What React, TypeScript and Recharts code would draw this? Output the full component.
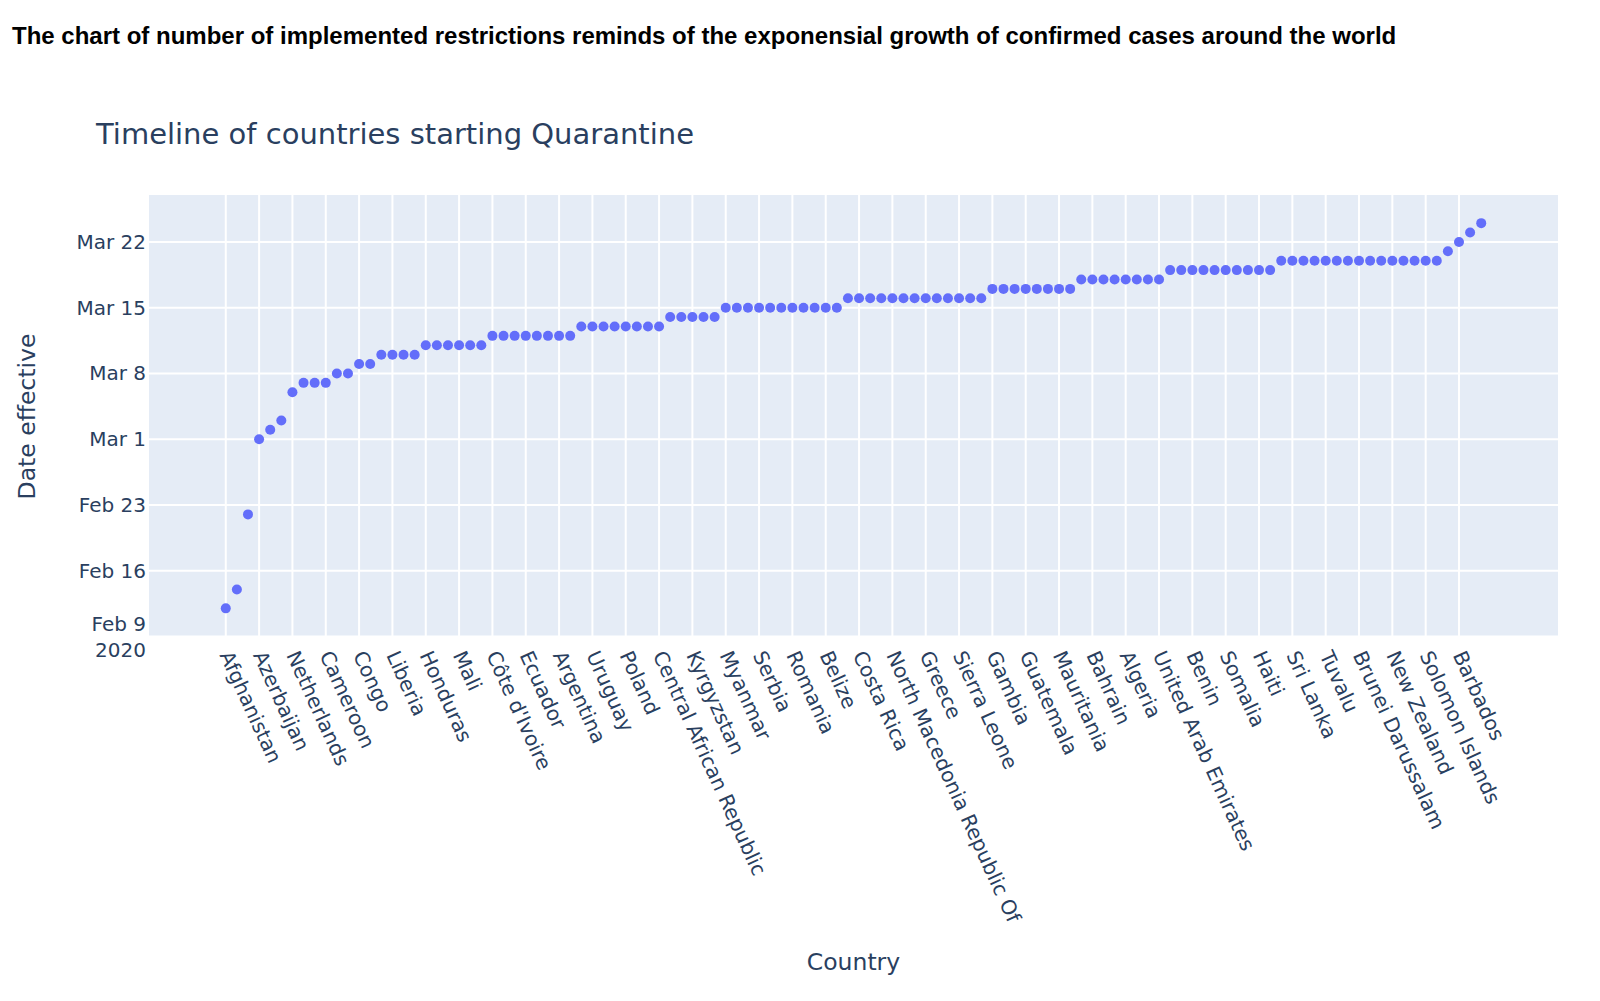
import React from "react";
import { ScatterChart, Scatter, XAxis, YAxis, CartesianGrid } from "recharts";

// country labels shown on the x axis (every third category)
const labeledCountries = [
  "Afghanistan", "Azerbaijan", "Netherlands", "Cameroon", "Congo", "Liberia",
  "Honduras", "Mali", "Côte d'Ivoire", "Ecuador", "Argentina", "Uruguay",
  "Poland", "Central African Republic", "Kyrgyzstan", "Myanmar", "Serbia",
  "Romania", "Belize", "Costa Rica", "North Macedonia Republic Of", "Greece",
  "Sierra Leone", "Gambia", "Guatemala", "Mauritania", "Bahrain", "Algeria",
  "United Arab Emirates", "Benin", "Somalia", "Haiti", "Sri Lanka", "Tuvalu",
  "Brunei Darussalam", "New Zealand", "Solomon Islands", "Barbados",
];
const labelStep = 3;

// date effective for each country, in chart order
const dateEffective = [
  "2020-02-12", "2020-02-14", "2020-02-22", "2020-03-01", "2020-03-02", "2020-03-03",
  "2020-03-06", "2020-03-07", "2020-03-07", "2020-03-07", "2020-03-08", "2020-03-08",
  "2020-03-09", "2020-03-09", "2020-03-10", "2020-03-10", "2020-03-10", "2020-03-10",
  "2020-03-11", "2020-03-11", "2020-03-11", "2020-03-11", "2020-03-11", "2020-03-11",
  "2020-03-12", "2020-03-12", "2020-03-12", "2020-03-12", "2020-03-12", "2020-03-12",
  "2020-03-12", "2020-03-12", "2020-03-13", "2020-03-13", "2020-03-13", "2020-03-13",
  "2020-03-13", "2020-03-13", "2020-03-13", "2020-03-13", "2020-03-14", "2020-03-14",
  "2020-03-14", "2020-03-14", "2020-03-14", "2020-03-15", "2020-03-15", "2020-03-15",
  "2020-03-15", "2020-03-15", "2020-03-15", "2020-03-15", "2020-03-15", "2020-03-15",
  "2020-03-15", "2020-03-15", "2020-03-16", "2020-03-16", "2020-03-16", "2020-03-16",
  "2020-03-16", "2020-03-16", "2020-03-16", "2020-03-16", "2020-03-16", "2020-03-16",
  "2020-03-16", "2020-03-16", "2020-03-16", "2020-03-17", "2020-03-17", "2020-03-17",
  "2020-03-17", "2020-03-17", "2020-03-17", "2020-03-17", "2020-03-17", "2020-03-18",
  "2020-03-18", "2020-03-18", "2020-03-18", "2020-03-18", "2020-03-18", "2020-03-18",
  "2020-03-18", "2020-03-19", "2020-03-19", "2020-03-19", "2020-03-19", "2020-03-19",
  "2020-03-19", "2020-03-19", "2020-03-19", "2020-03-19", "2020-03-19", "2020-03-20",
  "2020-03-20", "2020-03-20", "2020-03-20", "2020-03-20", "2020-03-20", "2020-03-20",
  "2020-03-20", "2020-03-20", "2020-03-20", "2020-03-20", "2020-03-20", "2020-03-20",
  "2020-03-20", "2020-03-20", "2020-03-21", "2020-03-22", "2020-03-23", "2020-03-24",
];

const yTickDates = ["2020-02-09", "2020-02-16", "2020-02-23", "2020-03-01", "2020-03-08", "2020-03-15", "2020-03-22"];
const yTickLabels = ["Feb 9", "Feb 16", "Feb 23", "Mar 1", "Mar 8", "Mar 15", "Mar 22"];

const ORIGIN = "2020-02-09";
const DAY = 86400000;
const toDay = (d: string) => (Date.parse(d) - Date.parse(ORIGIN)) / DAY;

const data = dateEffective.map((d, i) => ({ idx: i, day: toDay(d) }));
const xTicks = labeledCountries.map((_, i) => i * labelStep);
const yTicks = yTickDates.map(toDay);

const FONT = '"DejaVu Sans", Verdana, sans-serif';
const TEXT = "#2a3f5f";
const TICK_SIZE = 20;

const XTick = (props: any) => {
  const { x, y, payload } = props;
  const label = labeledCountries[Math.round(payload.value / labelStep)];
  return (
    <g transform={`translate(${x},${y}) rotate(65.5)`}>
      <text x={0} y={0} dy="0.35em" textAnchor="start" fontSize={20.3} fontFamily={FONT} fill={TEXT}>
        {label}
      </text>
    </g>
  );
};

const YTick = (props: any) => {
  const { x, y, payload } = props;
  const label = yTickLabels[yTicks.indexOf(payload.value)];
  if (payload.value === yTicks[0]) {
    return (
      <text x={x} y={y} textAnchor="end" fontSize={TICK_SIZE} fontFamily={FONT} fill={TEXT}>
        <tspan x={x} dy="-0.3em">{label}</tspan>
        <tspan x={x} dy="1.3em">2020</tspan>
      </text>
    );
  }
  return (
    <text x={x} y={y} dy="0.35em" textAnchor="end" fontSize={TICK_SIZE} fontFamily={FONT} fill={TEXT}>
      {label}
    </text>
  );
};

const Dot = (props: any) => <circle cx={props.cx} cy={props.cy} r={5} fill="#636efa" />;

export default function App() {
  return (
    <div style={{ position: "absolute", left: 0, top: 0, width: 1600, height: 1001, background: "#fff" }}>
      <ScatterChart width={1600} height={1001} margin={{ top: 194, right: 41, bottom: 0, left: 0 }}>
        <CartesianGrid fill="#E5ECF6" stroke="#fff" strokeWidth={2} />
        <XAxis
          type="number"
          dataKey="idx"
          domain={[-7, 120]}
          ticks={xTicks}
          interval={0}
          height={364}
          tick={<XTick />}
          tickLine={false}
          axisLine={false}
          tickSize={0}
          tickMargin={15}
          allowDataOverflow
        />
        <YAxis
          type="number"
          dataKey="day"
          domain={[-0.05, 47.1]}
          ticks={yTicks}
          interval={0}
          width={148}
          tick={<YTick />}
          tickLine={false}
          axisLine={false}
          tickSize={0}
          tickMargin={2}
          allowDataOverflow
        />
        <Scatter data={data} shape={<Dot />} isAnimationActive={false} />
      </ScatterChart>
      <svg width={1600} height={1001} style={{ position: "absolute", left: 0, top: 0, pointerEvents: "none" }}>
        <text x={12} y={43.5} fontFamily='"Liberation Sans", Arial, sans-serif' fontWeight="bold" fontSize={24} fill="#000">
          The chart of number of implemented restrictions reminds of the exponensial growth of confirmed cases around the world
        </text>
        <text x={96} y={144} fontFamily={FONT} fontSize={29} fill={TEXT}>
          Timeline of countries starting Quarantine
        </text>
        <text x={853.5} y={970} textAnchor="middle" fontFamily={FONT} fontSize={23.5} fill={TEXT}>
          Country
        </text>
        <text transform="translate(35,416.5) rotate(-90)" textAnchor="middle" fontFamily={FONT} fontSize={23.5} fill={TEXT}>
          Date effective
        </text>
      </svg>
    </div>
  );
}
